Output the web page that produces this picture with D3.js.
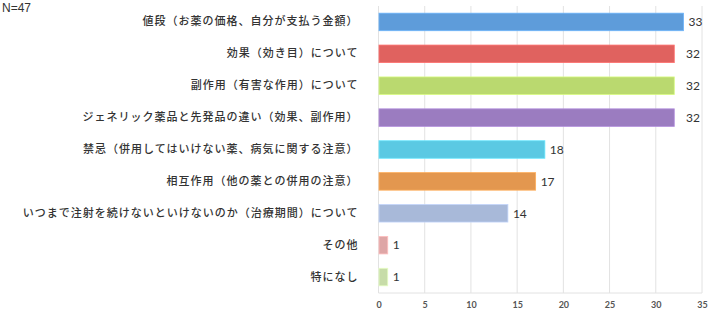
<!DOCTYPE html>
<html>
<head>
<meta charset="utf-8">
<script src="https://cdn.jsdelivr.net/npm/d3@7"></script>
<style>
  html, body { margin: 0; padding: 0; background: #fff; }
  svg { display: block; }
</style>
</head>
<body>
<svg id="chart" width="720" height="330"></svg>
<script>
// Survey items (N=47) and number of respondents per item
const categories = [
  "値段（お薬の価格、自分が支払う金額）",
  "効果（効き目）について",
  "副作用（有害な作用）について",
  "ジェネリック薬品と先発品の違い（効果、副作用）",
  "禁忌（併用してはいけない薬、病気に関する注意）",
  "相互作用（他の薬との併用の注意）",
  "いつまで注射を続けないといけないのか（治療期間）について",
  "その他",
  "特になし"
];
const counts = [33, 32, 32, 32, 18, 17, 14, 1, 1];
const barColors = ["#5e9cda", "#e0625f", "#bad96f", "#9b7cc0", "#5bc9e3", "#e3974f", "#a8b9d9", "#dea6a6", "#c7dca8"];
const tickValues = [0, 5, 10, 15, 20, 25, 30, 35];
const sampleNote = "N=47";

const svg = d3.select("#chart");
const margin = { top: 6, right: 18, bottom: 37, left: 378.5 };
const W = 720, H = 330;

const x = d3.scaleLinear().domain([0, 35]).range([margin.left, W - margin.right]);
const y = d3.scaleBand().domain(categories).range([margin.top, H - margin.bottom]).paddingInner(0.45).paddingOuter(0.225);

// vertical grid lines
svg.append("g")
  .selectAll("line")
  .data(tickValues)
  .join("line")
  .attr("x1", d => x(d)).attr("x2", d => x(d))
  .attr("y1", margin.top).attr("y2", H - margin.bottom)
  .attr("stroke", "#e2e2e2").attr("stroke-width", 1);

// bottom baseline
svg.append("line")
  .attr("x1", x(0)).attr("x2", x(35))
  .attr("y1", H - margin.bottom).attr("y2", H - margin.bottom)
  .attr("stroke", "#e2e2e2");

// x axis tick labels
const xAxis = d3.axisBottom(x).tickValues(tickValues).tickSize(0).tickPadding(9);
const gx = svg.append("g")
  .attr("transform", `translate(0,${H - margin.bottom})`)
  .call(xAxis);
gx.select(".domain").remove();
gx.selectAll("text")
  .attr("font-family", "Lato, 'Open Sans', sans-serif")
  .attr("font-size", 9)
  .attr("font-weight", 700)
  .attr("fill", "#555");

// bars
svg.append("g")
  .selectAll("rect")
  .data(categories)
  .join("rect")
  .attr("x", x(0) + 0.5)
  .attr("y", d => y(d))
  .attr("width", (d, i) => Math.max(0, x(counts[i]) - x(0) - 0.5))
  .attr("height", y.bandwidth())
  .attr("fill", (d, i) => barColors[i])
  .attr("stroke", (d, i) => d3.color(barColors[i]).brighter(0.4))
  .attr("stroke-width", 0.8);

// value labels: just past the bar end; near the right edge they line up in one column
const lastGrid = tickValues[tickValues.length - 2];
svg.append("g")
  .selectAll("text")
  .data(categories)
  .join("text")
  .attr("x", (d, i) => counts[i] > lastGrid
    ? Math.max(x(counts[i]) + 5, x(35) - 16)
    : x(counts[i]) + 5)
  .attr("y", d => y(d) + y.bandwidth() / 2)
  .attr("dy", "0.36em")
  .attr("font-family", "Lato, 'Open Sans', sans-serif")
  .attr("font-size", 12)
  .attr("fill", "#333")
  .text((d, i) => counts[i]);

// category labels
const yAxis = d3.axisLeft(y).tickSize(0).tickPadding(0);
const gy = svg.append("g")
  .attr("transform", `translate(${margin.left - 20},0)`)
  .call(yAxis);
gy.select(".domain").remove();
gy.selectAll("text")
  .attr("font-family", "'Noto Sans CJK JP', sans-serif")
  .attr("font-size", 11)
  .attr("font-weight", 500)
  .attr("letter-spacing", "1px")
  .attr("fill", "#333");

// sample size note
svg.append("text")
  .attr("x", 2).attr("y", 12)
  .attr("font-family", "'Liberation Sans', Arial, sans-serif")
  .attr("font-size", 12)
  .attr("fill", "#333")
  .text(sampleNote);
</script>
</body>
</html>
